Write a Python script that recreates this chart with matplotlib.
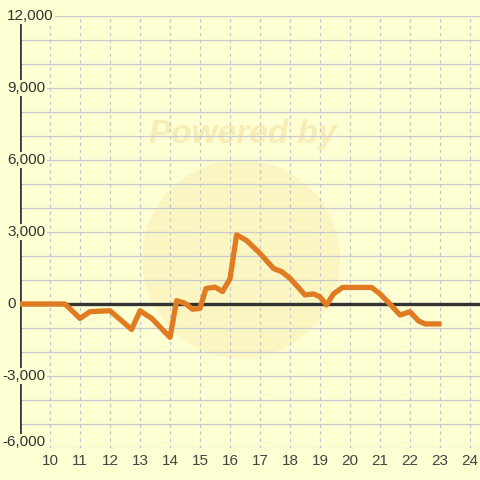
import matplotlib
matplotlib.use("Agg")
import matplotlib.pyplot as plt
from matplotlib.patches import Circle
import matplotlib.transforms as mtransforms

# data
hours = [9.0, 10.5, 11.0, 11.33, 12.0, 12.72, 13.0, 13.39, 14.0, 14.22, 14.5,
         14.75, 15.0, 15.2, 15.5, 15.75, 16.0, 16.22, 16.55, 17.0, 17.45, 17.72,
         18.0, 18.5, 18.78, 19.0, 19.22, 19.45, 19.75, 20.72, 21.0, 21.33, 21.67,
         22.0, 22.28, 22.5, 23.05]
values = [0, 0, -600, -320, -280, -1060, -280, -600, -1390, 140, 30,
          -220, -180, 650, 700, 520, 1050, 2880, 2650, 2110, 1480, 1350,
          1070, 380, 420, 300, -40, 420, 690, 690, 420, 0, -460,
          -320, -700, -830, -830]
y_ticks = [12000, 9000, 6000, 3000, 0, -3000, -6000]
y_grid = list(range(-6000, 12001, 1000))
x_ticks = list(range(10, 25))

FONT = "Liberation Sans"
BG = "#FEFED3"
fig = plt.figure(figsize=(4.8, 4.8), dpi=100, facecolor=BG)
ax = fig.add_axes([20/480, 32/480, 460/480, 432/480])
ax.set_facecolor(BG)
ax.set_xlim(9, 9 + 460/30)
ax.set_ylim(-6000, 12000)
for s in ax.spines.values():
    s.set_visible(False)
ax.set_xticks([]); ax.set_yticks([])

# watermark
circ = Circle((241/480, 1 - 259/480), 99/480, transform=fig.transFigure,
              facecolor="#FAEFB0", alpha=0.5, edgecolor="none", zorder=0.5)
ax.add_patch(circ)
ax.text(243/480, 1 - 134/480, "Powered by", transform=fig.transFigure,
        ha="center", va="center", fontsize=24, fontweight="bold",
        fontstyle="italic", family=FONT, color="#F6EDB6", zorder=0.5)

for g in y_grid:
    ax.axhline(g, color="#C9C9D2", lw=0.9, zorder=1)
for xv in x_ticks:
    ax.axvline(xv, color="#C4C4C8", lw=0.9, ls=(0, (2.5, 3)), zorder=1)

ax.axhline(0, color="#333333", lw=2.4, zorder=2)
ax.axvline(9.0, color="#333333", lw=2.6, zorder=2)

ax.plot(hours, values, color="#E07B22", lw=3.8, solid_joinstyle="round",
        solid_capstyle="butt", zorder=3)

blend = mtransforms.blended_transform_factory(fig.transFigure, ax.transData)
for t in y_ticks:
    xpos = 2/480 if t < 0 else 7/480
    off = 250 if t == -6000 else 0
    ax.text(xpos, t + off, f"{t:,}", transform=blend, ha="left", va="center",
            fontsize=11, family=FONT, color="#333333", zorder=5, clip_on=False,
            bbox=dict(facecolor=BG, edgecolor="none", pad=1.0))

blendx = mtransforms.blended_transform_factory(ax.transData, fig.transFigure)
for xv in x_ticks:
    ax.text(xv, 19/480, str(xv), transform=blendx, ha="center", va="center",
            fontsize=11, family=FONT, color="#444444", clip_on=False)

fig.savefig("out.png", dpi=100, facecolor=BG)
